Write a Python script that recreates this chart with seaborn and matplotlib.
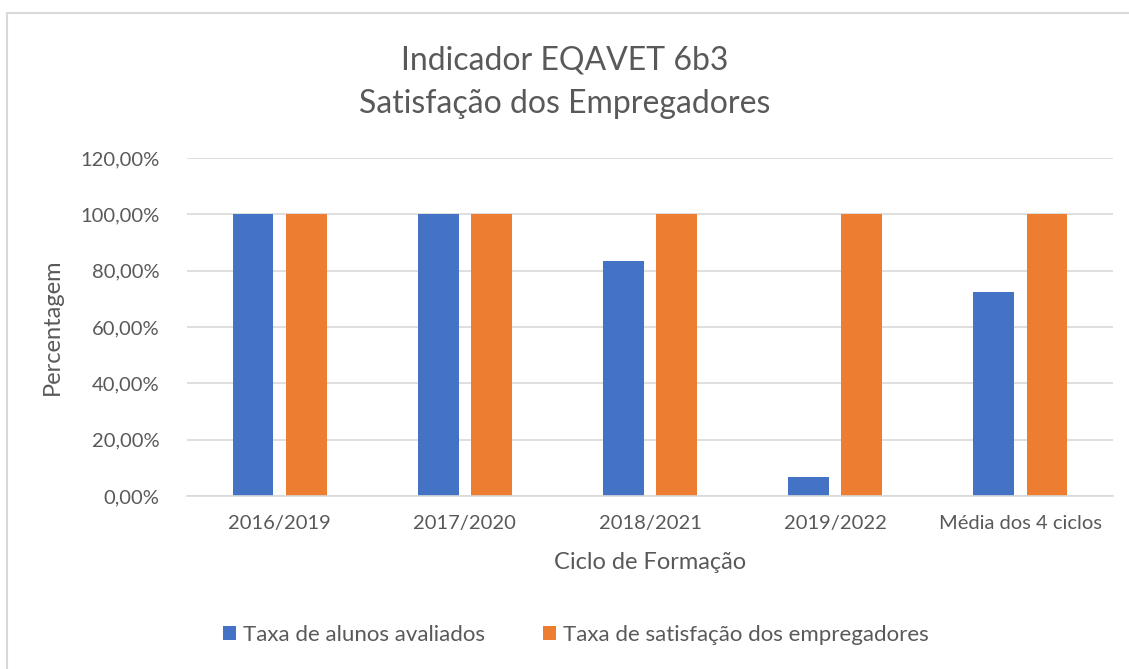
import pandas as pd
import seaborn as sns
import matplotlib.pyplot as plt
from matplotlib.patches import Rectangle
from matplotlib.ticker import FuncFormatter

# --- Data ---
ciclos = ["2016/2019", "2017/2020", "2018/2021", "2019/2022", "Média dos 4 ciclos"]
taxa_avaliados = [1.00, 1.00, 0.8333, 0.0667, 0.725]
taxa_satisfacao = [1.00, 1.00, 1.00, 1.00, 1.00]
series_names = ["Taxa de alunos avaliados", "Taxa de satisfação dos empregadores"]
colors = ["#4472C4", "#ED7D31"]

df = pd.DataFrame({
    "Ciclo": ciclos * 2,
    "Serie": [series_names[0]] * len(ciclos) + [series_names[1]] * len(ciclos),
    "Valor": taxa_avaliados + taxa_satisfacao,
})

sns.set_style("white")
plt.rcParams['font.family'] = ['Lato', 'DejaVu Sans']
text_col = "#595959"

fig = plt.figure(figsize=(11.29, 6.69), dpi=100)
fig.patches.append(Rectangle((7 / 1129, -0.01), 1.1, (669 - 13) / 669 + 0.01,
                             transform=fig.transFigure, fill=False,
                             edgecolor="#D9D9D9", linewidth=1.5))

ax = fig.add_axes([187 / 1129, 173 / 669, 926 / 1129, 338 / 669])
sns.barplot(data=df, x="Ciclo", y="Valor", hue="Serie", palette=colors,
            width=0.573, gap=0.23, ax=ax, legend=True, saturation=1, linewidth=0)

ax.set_ylim(0, 1.2)
ax.set_yticks([0, 0.2, 0.4, 0.6, 0.8, 1.0, 1.2])
ax.yaxis.set_major_formatter(FuncFormatter(lambda v, p: f"{v * 100:.2f}%".replace(".", ",")))
ax.grid(axis="y", color="#D9D9D9", linewidth=1.2)
ax.set_axisbelow(True)
for s in ["top", "right", "left"]:
    ax.spines[s].set_visible(False)
ax.spines["bottom"].set_color("#D9D9D9")
ax.spines["bottom"].set_linewidth(1.2)
ax.tick_params(axis="both", length=0, labelsize=14.5, colors=text_col)
ax.tick_params(axis="y", pad=20)
ax.tick_params(axis="x", pad=14)

ax.set_xlabel("Ciclo de Formação", fontsize=17, color=text_col, labelpad=14)
ax.set_ylabel("Percentagem", fontsize=17, color=text_col, labelpad=12)

fig.text(0.5, 1 - 60 / 669, "Indicador EQAVET 6b3", ha="center", va="center",
         fontsize=23, color=text_col)
fig.text(0.5, 1 - 104 / 669, "Satisfação dos Empregadores", ha="center", va="center",
         fontsize=23, color=text_col)

handles, labels = ax.get_legend_handles_labels()
ax.get_legend().remove()
fig.legend(handles, labels, loc="center", bbox_to_anchor=(0.51, 1 - 635 / 669),
           ncol=2, frameon=False, fontsize=16, labelcolor=text_col,
           handlelength=0.6, handleheight=0.6, handletextpad=0.3, columnspacing=2.6)

plt.savefig("out.png", dpi=100)
plt.close()
